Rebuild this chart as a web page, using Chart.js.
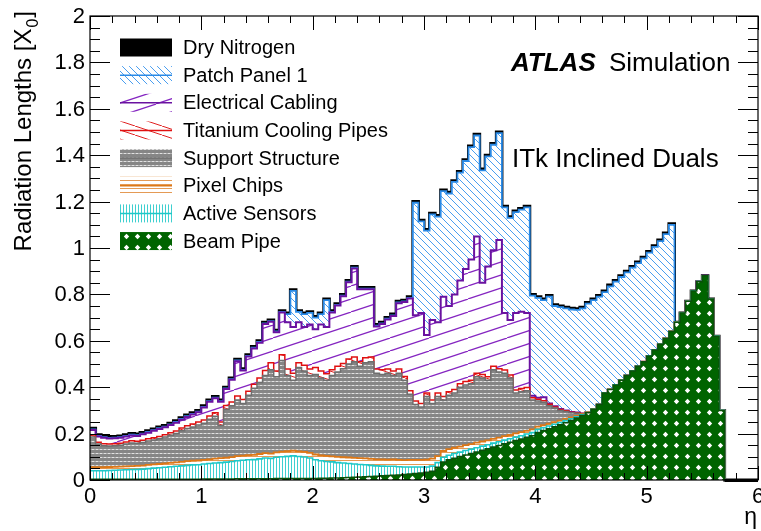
<!DOCTYPE html>
<html>
<head>
<meta charset="utf-8">
<script src="https://cdn.jsdelivr.net/npm/chart.js@4.4.1/dist/chart.umd.min.js"></script>
<style>
  html, body { margin: 0; padding: 0; background: #fff; }
  canvas { display: block; }
</style>
</head>
<body>
<canvas id="material_chart" width="761" height="531"></canvas>
<script>
// eta binning: 120 bins of 0.05 between 0 and 6
const etaMax = 6;
const binWidth = 0.05;
const binEdges = Array.from({ length: 121 }, (_, i) => +(i * binWidth).toFixed(2));

const xTickLabels = ['0', '1', '2', '3', '4', '5', '6'];
const yTickLabels = ['0', '0.2', '0.4', '0.6', '0.8', '1', '1.2', '1.4', '1.6', '1.8', '2'];

// radiation length per bin for each component, bottom of the stack first
const beamPipe = [
  0.003,0.003,0.003,0.003,0.003,0.003,0.003,0.003,0.003,0.003,
  0.003,0.003,0.003,0.003,0.003,0.003,0.003,0.003,0.003,0.003,
  0.004,0.004,0.004,0.004,0.004,0.004,0.005,0.005,0.005,0.005,
  0.005,0.005,0.005,0.006,0.006,0.006,0.006,0.006,0.007,0.007,
  0.007,0.008,0.008,0.009,0.009,0.010,0.011,0.012,0.013,0.014,
  0.015,0.016,0.018,0.019,0.021,0.022,0.024,0.026,0.028,0.030,
  0.033,0.038,0.055,0.078,0.087,0.094,0.101,0.108,0.114,0.121,
  0.128,0.135,0.142,0.149,0.156,0.163,0.170,0.177,0.184,0.191,
  0.205,0.213,0.221,0.229,0.238,0.247,0.257,0.267,0.278,0.290,
  0.305,0.325,0.375,0.390,0.410,0.430,0.450,0.470,0.490,0.510,
  0.535,0.560,0.585,0.610,0.640,0.680,0.720,0.770,0.815,0.855,
  0.880,0.780,0.620,0.300,0,0,0,0,0,0
];
const activeSensors = [
  0.037,0.037,0.037,0.038,0.039,0.040,0.041,0.042,0.043,0.044,
  0.046,0.048,0.050,0.052,0.054,0.056,0.058,0.060,0.062,0.063,
  0.065,0.067,0.069,0.071,0.073,0.076,0.078,0.080,0.082,0.083,
  0.086,0.090,0.088,0.092,0.094,0.096,0.098,0.095,0.092,0.088,
  0.080,0.075,0.072,0.069,0.066,0.063,0.060,0.057,0.054,0.052,
  0.048,0.045,0.042,0.040,0.038,0.035,0.032,0.030,0.028,0.026,
  0.023,0.022,0.020,0.020,0.020,0.020,0.019,0.019,0.019,0.018,
  0.018,0.017,0.017,0.016,0.016,0.015,0.015,0.014,0.014,0.013,
  0.013,0.012,0.012,0.011,0.010,0.009,0.007,0.005,0.003,0.001,
  0,0,0,0,0,0,0,0,0,0,
  0,0,0,0,0,0,0,0,0,0,
  0,0,0,0,0,0,0,0,0,0
];
const pixelChips = [
  0.015,0.015,0.015,0.015,0.015,0.015,0.015,0.015,0.015,0.015,
  0.016,0.016,0.016,0.017,0.017,0.017,0.017,0.018,0.018,0.018,
  0.018,0.018,0.019,0.019,0.019,0.019,0.020,0.020,0.020,0.020,
  0.021,0.021,0.021,0.021,0.022,0.022,0.022,0.022,0.022,0.022,
  0.023,0.023,0.024,0.024,0.025,0.025,0.026,0.026,0.027,0.027,
  0.028,0.028,0.029,0.029,0.030,0.030,0.030,0.031,0.031,0.031,
  0.032,0.032,0.028,0.027,0.026,0.025,0.024,0.023,0.022,0.022,
  0.020,0.019,0.018,0.018,0.017,0.016,0.016,0.015,0.014,0.014,
  0.012,0.011,0.010,0.009,0.008,0.007,0.006,0.004,0.003,0.001,
  0,0,0,0,0,0,0,0,0,0,
  0,0,0,0,0,0,0,0,0,0,
  0,0,0,0,0,0,0,0,0,0
];
const supportStructure = [
  0.130,0.100,0.093,0.091,0.091,0.092,0.096,0.100,0.097,0.100,
  0.103,0.105,0.109,0.113,0.119,0.124,0.134,0.141,0.145,0.153,
  0.158,0.173,0.183,0.141,0.209,0.221,0.242,0.225,0.258,0.287,
  0.308,0.334,0.361,0.326,0.393,0.326,0.304,0.362,0.349,0.333,
  0.345,0.334,0.326,0.348,0.365,0.382,0.403,0.415,0.396,0.412,
  0.419,0.371,0.366,0.372,0.361,0.373,0.344,0.283,0.238,0.228,
  0.272,0.238,0.257,0.220,0.232,0.236,0.256,0.260,0.260,0.284,
  0.274,0.259,0.298,0.282,0.271,0.246,0.174,0.174,0.173,0.127,
  0.110,0.099,0.077,0.061,0.044,0.032,0.020,0.012,0.002,0,
  0,0,0,0,0,0,0,0,0,0,
  0,0,0,0,0,0,0,0,0,0,
  0,0,0,0,0,0,0,0,0,0
];
const titaniumPipes = [
  0.009,0.008,0.008,0.008,0.008,0.008,0.009,0.009,0.009,0.009,
  0.010,0.010,0.010,0.010,0.011,0.011,0.012,0.012,0.013,0.013,
  0.014,0.014,0.015,0.015,0.016,0.016,0.017,0.017,0.018,0.018,
  0.020,0.022,0.030,0.025,0.025,0.028,0.030,0.020,0.025,0.028,
  0.030,0.030,0.028,0.025,0.025,0.022,0.022,0.020,0.020,0.022,
  0.020,0.018,0.020,0.018,0.020,0.018,0.016,0.015,0.015,0.015,
  0.015,0.015,0.015,0.015,0.015,0.015,0.015,0.015,0.015,0.015,
  0.015,0.015,0.015,0.014,0.014,0.013,0.013,0.014,0.014,0.010,
  0.008,0.007,0.006,0.005,0.004,0.003,0.002,0.002,0.001,0,
  0,0,0,0,0,0,0,0,0,0,
  0,0,0,0,0,0,0,0,0,0,
  0,0,0,0,0,0,0,0,0,0
];
const electricalCabling = [
  0.021,0.024,0.026,0.024,0.024,0.024,0.023,0.023,0.023,0.026,
  0.026,0.030,0.032,0.032,0.033,0.036,0.036,0.038,0.041,0.042,
  0.053,0.061,0.062,0.087,0.071,0.096,0.150,0.125,0.149,0.154,
  0.152,0.200,0.177,0.167,0.182,0.202,0.200,0.175,0.165,0.192,
  0.165,0.200,0.202,0.247,0.262,0.290,0.330,0.382,0.312,0.295,
  0.292,0.184,0.197,0.214,0.237,0.284,0.321,0.397,0.370,0.390,
  0.250,0.345,0.305,0.430,0.370,0.410,0.445,0.485,0.520,0.590,
  0.395,0.475,0.500,0.556,0.246,0.237,0.332,0.331,0.321,0.008,
  0.006,0.015,0.004,0.003,0.002,0.002,0.001,0.001,0,0,
  0,0,0,0,0,0,0,0,0,0,
  0,0,0,0,0,0,0,0,0,0,
  0,0,0,0,0,0,0,0,0,0
];
const patchPanel = [
  0.003,0.003,0.003,0.003,0.003,0.003,0.003,0.003,0.003,0.003,
  0.003,0.003,0.003,0.003,0.003,0.003,0.003,0.003,0.003,0.003,
  0.003,0.003,0.003,0.003,0.003,0.003,0.003,0.003,0.003,0.003,
  0.003,0.003,0.003,0.003,0.003,0.035,0.155,0.045,0.055,0.050,
  0.050,0.045,0.115,0.003,0.003,0.003,0.003,0.003,0.003,0.003,
  0.003,0.003,0.003,0.003,0.003,0.003,0.003,0.003,0.485,0.395,
  0.450,0.455,0.455,0.455,0.485,0.485,0.465,0.465,0.485,0.435,
  0.485,0.475,0.455,0.460,0.455,0.440,0.435,0.440,0.455,0.432,
  0.431,0.418,0.460,0.432,0.439,0.440,0.442,0.442,0.453,0.468,
  0.470,0.465,0.435,0.445,0.445,0.445,0.445,0.445,0.445,0.445,
  0.445,0.445,0.445,0.450,0.460,0,0,0,0,0,
  0,0,0,0,0,0,0,0,0,0
];
const dryNitrogen = [
  0.005,0.005,0.005,0.005,0.005,0.005,0.005,0.005,0.005,0.005,
  0.005,0.005,0.005,0.005,0.005,0.005,0.005,0.005,0.005,0.005,
  0.005,0.005,0.005,0.005,0.005,0.005,0.005,0.005,0.005,0.005,
  0.005,0.005,0.005,0.005,0.005,0.005,0.005,0.005,0.005,0.005,
  0.005,0.005,0.005,0.005,0.005,0.005,0.005,0.005,0.005,0.005,
  0.005,0.005,0.005,0.005,0.005,0.005,0.005,0.005,0.005,0.005,
  0.005,0.005,0.005,0.005,0.005,0.005,0.005,0.005,0.005,0.005,
  0.005,0.005,0.005,0.005,0.005,0.005,0.005,0.005,0.005,0.005,
  0.005,0.005,0.005,0.005,0.005,0.005,0.005,0.005,0.005,0.005,
  0.005,0.005,0.005,0.005,0.005,0.005,0.005,0.005,0.005,0.005,
  0.005,0.005,0.005,0.005,0.005,0,0,0,0,0,
  0,0,0,0,0,0,0,0,0,0
];

const FONT = '"Liberation Sans", Arial, Helvetica, sans-serif';
const canvas = document.getElementById('material_chart');

// small offscreen tiles used as fill patterns
function makePattern(w, h, paint) {
  const tile = document.createElement('canvas');
  tile.width = w;
  tile.height = h;
  const g = tile.getContext('2d');
  paint(g, w, h);
  return canvas.getContext('2d').createPattern(tile, 'repeat');
}

function hatch(g, w, h, colour, lw, rising) {
  g.fillStyle = '#ffffff';
  g.fillRect(0, 0, w, h);
  g.strokeStyle = colour;
  g.lineWidth = lw;
  for (const k of [-1, 0, 1]) {
    g.beginPath();
    if (rising) {
      g.moveTo(k * w, h);
      g.lineTo(k * w + w, 0);
    } else {
      g.moveTo(k * w, 0);
      g.lineTo(k * w + w, h);
    }
    g.stroke();
  }
}

const beamFill = makePattern(11, 11, (g, w, h) => {
  g.fillStyle = '#006400';
  g.fillRect(0, 0, w, h);
  g.fillStyle = '#ffffff';
  g.beginPath();
  g.moveTo(5.5, 2.8);
  g.lineTo(8.2, 5.5);
  g.lineTo(5.5, 8.2);
  g.lineTo(2.8, 5.5);
  g.closePath();
  g.fill();
});
const sensorFill = makePattern(3, 3, (g, w, h) => {
  g.fillStyle = '#ffffff';
  g.fillRect(0, 0, w, h);
  g.fillStyle = '#3fd0d0';
  g.fillRect(0, 0, 1, h);
});
const chipFill = makePattern(4, 4, (g, w, h) => {
  g.fillStyle = '#ffffff';
  g.fillRect(0, 0, w, h);
  g.fillStyle = '#e49a55';
  g.fillRect(0, 0, w, 1);
});
const supportFill = makePattern(4, 4, (g, w, h) => {
  g.fillStyle = '#868686';
  g.fillRect(0, 0, w, h);
  g.fillStyle = '#e2e2e2';
  g.fillRect(0, 1, 2, 1);
  g.fillStyle = '#b4b4b4';
  g.fillRect(2, 1, 2, 1);
});
const tiFill = makePattern(27, 9, (g, w, h) => hatch(g, w, h, '#e02020', 1, false));
const cablingFill = makePattern(39, 13, (g, w, h) => hatch(g, w, h, '#8424c0', 1.2, true));
const patchFill = makePattern(7, 7, (g, w, h) => hatch(g, w, h, '#4a9ef0', 1, false));

const stack = [
  { label: 'Beam Pipe', values: beamPipe, line: '#0b4f0b', width: 1.5, fill: beamFill },
  { label: 'Active Sensors', values: activeSensors, line: '#1fc8c8', width: 1.6, fill: sensorFill },
  { label: 'Pixel Chips', values: pixelChips, line: '#dc7818', width: 1.8, fill: chipFill },
  { label: 'Support Structure', values: supportStructure, line: '#6e6e6e', width: 1.5, fill: supportFill },
  { label: 'Titanium Cooling Pipes', values: titaniumPipes, line: '#e01010', width: 1.5, fill: tiFill },
  { label: 'Electrical Cabling', values: electricalCabling, line: '#6a12a0', width: 2, fill: cablingFill },
  { label: 'Patch Panel 1', values: patchPanel, line: '#2a8ae6', width: 1.8, fill: patchFill },
  { label: 'Dry Nitrogen', values: dryNitrogen, line: '#000000', width: 3, fill: '#000000' }
];

const datasets = stack.map((layer, k) => ({
  label: layer.label,
  data: layer.values
    .map((v, i) => ({ x: binEdges[i], y: v }))
    .concat([{ x: etaMax, y: layer.values[layer.values.length - 1] }]),
  borderColor: layer.line,
  borderWidth: layer.width,
  backgroundColor: layer.fill,
  fill: k === 0 ? 'origin' : '-1',
  stepped: true,
  tension: 0,
  pointRadius: 0,
  clip: { left: 0, top: 0, right: 0, bottom: 3 }
}));

// frame, ticks, labels, legend and captions in ROOT style
const decorations = {
  id: 'decorations',
  afterDatasetsDraw(chart) {
    const { ctx, chartArea: a, scales: { x, y } } = chart;
    ctx.save();

    // legend, top of the stack first
    const boxX = 120, boxW = 52, boxH = 18;
    stack.slice().reverse().forEach((layer, r) => {
      const cy = 47.5 + r * 27.65;
      ctx.fillStyle = layer.fill;
      ctx.fillRect(boxX, cy - boxH / 2, boxW, boxH);
      if (layer.label !== 'Dry Nitrogen' && layer.label !== 'Beam Pipe') {
        ctx.strokeStyle = layer.line;
        ctx.lineWidth = 1.5;
        ctx.beginPath();
        ctx.moveTo(boxX, cy);
        ctx.lineTo(boxX + boxW, cy);
        ctx.stroke();
      }
      ctx.fillStyle = '#000';
      ctx.font = '20px ' + FONT;
      ctx.textAlign = 'left';
      ctx.textBaseline = 'middle';
      ctx.fillText(layer.label, 183, cy + 1);
    });

    // captions
    ctx.textBaseline = 'alphabetic';
    ctx.font = 'italic bold 26px ' + FONT;
    ctx.fillText('ATLAS', 511, 71);
    ctx.font = '26px ' + FONT;
    ctx.fillText('Simulation', 609, 71);
    ctx.fillText('ITk Inclined Duals', 512, 167);

    // empty region past the beam pipe: ROOT draws the zero line of the total
    ctx.strokeStyle = '#000';
    ctx.lineWidth = 3;
    ctx.beginPath();
    ctx.moveTo(x.getPixelForValue(binEdges[114]), a.bottom + 0.5);
    ctx.lineTo(a.right, a.bottom + 0.5);
    ctx.stroke();

    // frame
    ctx.lineWidth = 1.2;
    ctx.strokeRect(a.left, a.top, a.right - a.left, a.bottom - a.top);

    // x ticks on top and bottom edges
    ctx.lineWidth = 1;
    ctx.beginPath();
    for (let i = 0; i <= 30; i++) {
      const v = i * 0.2;
      const px = Math.round(x.getPixelForValue(v)) + 0.5;
      const len = i % 5 === 0 ? 14 : 7;
      ctx.moveTo(px, a.bottom);
      ctx.lineTo(px, a.bottom - len);
      ctx.moveTo(px, a.top);
      ctx.lineTo(px, a.top + len);
    }
    // y ticks on left and right edges
    for (let i = 0; i <= 40; i++) {
      const v = i * 0.05;
      const py = Math.round(y.getPixelForValue(v)) + 0.5;
      const len = i % 4 === 0 ? 20 : 10;
      ctx.moveTo(a.left, py);
      ctx.lineTo(a.left + len, py);
      ctx.moveTo(a.right, py);
      ctx.lineTo(a.right - len, py);
    }
    ctx.stroke();

    // tick labels
    ctx.fillStyle = '#000';
    ctx.font = '22px ' + FONT;
    ctx.textAlign = 'right';
    ctx.textBaseline = 'middle';
    yTickLabels.forEach((t, i) => {
      ctx.fillText(t, a.left - 5, y.getPixelForValue(i * 0.2) + 1);
    });
    ctx.textAlign = 'center';
    ctx.textBaseline = 'top';
    xTickLabels.forEach((t, i) => {
      ctx.fillText(t, x.getPixelForValue(i), a.bottom + 6);
    });

    // axis titles
    ctx.textAlign = 'right';
    ctx.textBaseline = 'alphabetic';
    ctx.font = '23px ' + FONT;
    ctx.fillText('\u03b7', 757, 524);

    ctx.translate(31, 0);
    ctx.rotate(-Math.PI / 2);
    ctx.textAlign = 'left';
    const main = 'Radiation Lengths [X';
    ctx.font = '24px ' + FONT;
    const wMain = ctx.measureText(main).width;
    const wClose = ctx.measureText(']').width;
    ctx.font = '16px ' + FONT;
    const wSub = ctx.measureText('0').width;
    const total = wMain + wSub + wClose + 2;
    const start = -(11 + total);
    ctx.font = '24px ' + FONT;
    ctx.fillText(main, start, 0);
    ctx.font = '16px ' + FONT;
    ctx.fillText('0', start + wMain + 1, 7);
    ctx.font = '24px ' + FONT;
    ctx.fillText(']', start + wMain + wSub + 2, 0);

    ctx.restore();
  }
};

new Chart(canvas, {
  type: 'line',
  data: { datasets: datasets },
  options: {
    responsive: false,
    animation: false,
    devicePixelRatio: 1,
    events: [],
    layout: { padding: { left: 90, right: 3, top: 16, bottom: 51 } },
    scales: {
      x: { type: 'linear', min: 0, max: etaMax, display: false },
      y: { type: 'linear', min: 0, max: 2, stacked: true, display: false }
    },
    plugins: {
      legend: { display: false },
      tooltip: { enabled: false }
    }
  },
  plugins: [decorations]
});
</script>
</body>
</html>
